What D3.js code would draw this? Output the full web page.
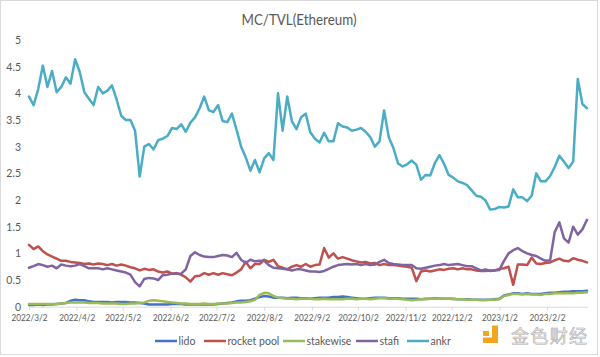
<!DOCTYPE html>
<html><head><meta charset="utf-8">
<script src="https://cdn.jsdelivr.net/npm/d3@7"></script>
<style>body{margin:0;background:#fff}svg{display:block}</style>
</head><body>
<svg id="chart" width="600" height="357"></svg>
<script>
// ---- data (sampled every 3 days from 2022/3/2) ----
const startDate = "2022-03-02";
const stepDays = 3;
const seriesNames = ["lido", "rocket pool", "stakewise", "stafi", "ankr"];
const xTickLabels = ["2022/3/2","2022/4/2","2022/5/2","2022/6/2","2022/7/2","2022/8/2","2022/9/2","2022/10/2","2022/11/2","2022/12/2","2023/1/2","2023/2/2"];
const yTicks = [0,0.5,1,1.5,2,2.5,3,3.5,4,4.5,5];

const lido = [0.03,0.03,0.04,0.03,0.04,0.04,0.05,0.06,0.07,0.11,0.13,0.12,0.12,0.1,0.09,0.09,0.09,0.09,0.08,0.09,
0.09,0.09,0.08,0.08,0.07,0.06,0.04,0.04,0.04,0.04,0.04,0.05,0.05,0.05,0.04,0.04,0.04,0.04,0.04,0.04,
0.04,0.05,0.06,0.07,0.08,0.1,0.11,0.11,0.12,0.15,0.18,0.2,0.19,0.17,0.17,0.17,0.16,0.17,0.17,0.16,
0.16,0.15,0.16,0.17,0.17,0.17,0.18,0.18,0.19,0.18,0.17,0.16,0.15,0.15,0.16,0.17,0.17,0.17,0.16,0.16,
0.16,0.15,0.15,0.15,0.15,0.14,0.15,0.15,0.16,0.16,0.15,0.15,0.15,0.14,0.14,0.14,0.13,0.13,0.13,0.13,
0.13,0.14,0.15,0.21,0.23,0.25,0.25,0.24,0.25,0.24,0.24,0.24,0.25,0.26,0.26,0.27,0.28,0.28,0.29,0.29,
0.29,0.3];

const rocketPool = [1.16,1.08,1.13,1.04,0.98,0.94,0.9,0.86,0.86,0.84,0.83,0.82,0.8,0.81,0.79,0.81,0.8,0.78,0.8,0.77,
0.79,0.77,0.74,0.72,0.68,0.71,0.69,0.7,0.66,0.64,0.66,0.62,0.63,0.6,0.55,0.47,0.57,0.58,0.63,0.6,
0.63,0.6,0.63,0.61,0.59,0.64,0.7,0.84,0.72,0.8,0.8,0.88,0.84,0.88,0.76,0.73,0.7,0.75,0.78,0.75,
0.8,0.75,0.78,0.79,1.1,0.92,1.0,0.9,0.93,0.9,0.87,0.85,0.83,0.84,0.81,0.82,0.78,0.8,0.78,0.78,
0.77,0.76,0.75,0.73,0.48,0.66,0.68,0.66,0.68,0.7,0.69,0.71,0.72,0.7,0.72,0.7,0.7,0.68,0.67,0.67,
0.68,0.68,0.71,0.72,0.75,0.41,0.79,0.79,0.78,0.92,0.81,0.8,0.82,0.83,0.87,0.9,0.86,0.85,0.91,0.88,
0.86,0.83];

const stakewise = [0.05,0.05,0.05,0.05,0.05,0.05,0.05,0.06,0.07,0.08,0.08,0.08,0.08,0.07,0.07,0.07,0.06,0.06,0.06,0.06,
0.05,0.05,0.06,0.06,0.07,0.08,0.11,0.12,0.11,0.1,0.09,0.08,0.07,0.06,0.06,0.05,0.05,0.05,0.06,0.05,
0.05,0.06,0.06,0.06,0.07,0.08,0.08,0.09,0.1,0.13,0.22,0.26,0.25,0.2,0.17,0.16,0.15,0.15,0.14,0.15,
0.15,0.15,0.14,0.14,0.15,0.14,0.14,0.14,0.14,0.15,0.15,0.14,0.15,0.15,0.14,0.15,0.16,0.16,0.15,0.15,
0.15,0.14,0.13,0.12,0.13,0.14,0.14,0.15,0.15,0.16,0.15,0.15,0.14,0.14,0.14,0.13,0.13,0.13,0.12,0.12,
0.13,0.13,0.14,0.2,0.22,0.24,0.24,0.23,0.24,0.23,0.23,0.22,0.24,0.24,0.25,0.25,0.25,0.25,0.25,0.26,
0.26,0.27];

const stafi = [0.73,0.76,0.8,0.78,0.75,0.77,0.72,0.79,0.77,0.76,0.77,0.8,0.76,0.72,0.72,0.72,0.7,0.72,0.7,0.68,
0.66,0.64,0.6,0.46,0.38,0.52,0.54,0.53,0.5,0.59,0.6,0.62,0.62,0.62,0.7,0.95,1.02,0.97,0.94,0.93,
0.93,0.95,0.97,0.96,0.93,1.01,0.88,0.82,0.88,0.85,0.86,0.86,0.78,0.73,0.72,0.71,0.7,0.68,0.7,0.7,
0.68,0.66,0.66,0.65,0.67,0.71,0.75,0.78,0.79,0.8,0.79,0.8,0.78,0.8,0.78,0.79,0.84,0.88,0.82,0.8,
0.79,0.78,0.78,0.78,0.72,0.71,0.73,0.75,0.77,0.78,0.8,0.78,0.79,0.8,0.78,0.76,0.76,0.72,0.68,0.7,
0.67,0.68,0.69,0.86,1.0,1.06,1.1,1.04,1.0,0.97,0.95,0.9,0.86,0.87,1.4,1.58,1.28,1.2,1.5,1.35,
1.45,1.63];

const ankr = [3.94,3.78,4.08,4.52,4.12,4.42,4.02,4.12,4.3,4.18,4.64,4.4,4.02,3.9,3.78,4.12,4.0,4.05,4.15,3.88,
3.58,3.5,3.5,3.3,2.44,3.0,3.05,2.95,3.12,3.15,3.2,3.35,3.33,3.42,3.28,3.45,3.55,3.72,3.94,3.68,
3.65,3.78,3.48,3.46,3.62,3.32,3.0,2.8,2.55,2.75,2.52,2.78,2.88,2.75,4.0,3.3,3.94,3.48,3.33,3.55,
3.62,3.27,3.15,3.08,3.26,3.1,3.1,3.44,3.38,3.36,3.3,3.32,3.35,3.28,3.18,3.0,3.1,3.68,3.18,2.98,
2.69,2.63,2.67,2.74,2.66,2.38,2.47,2.46,2.69,2.84,2.68,2.47,2.42,2.35,2.32,2.28,2.18,2.08,2.06,1.99,
1.82,1.83,1.87,1.86,1.88,2.2,2.05,2.05,1.98,2.08,2.5,2.35,2.35,2.45,2.62,2.83,2.72,2.6,2.72,4.27,
3.8,3.72];

const seriesValues = [lido, rocketPool, stakewise, stafi, ankr];
const seriesColors = ["#4472C4", "#C0504D", "#9BBB59", "#8064A2", "#4BACC6"];

// ---- chart ----
const svg = d3.select("#chart");
const font = "Lato, 'Open Sans', sans-serif";
const textColor = "#595959";

const parse = d3.timeParse("%Y-%m-%d");
const t0 = parse(startDate);
const dates = ankr.map((_, i) => d3.timeDay.offset(t0, i * stepDays));
const tickDates = xTickLabels.map(s => d3.timeParse("%Y/%m/%d")(s));

const x = d3.scaleTime().domain([t0, d3.timeDay.offset(t0, 363)]).range([29, 587]);
const y = d3.scaleLinear().domain([0, 5]).range([306.7, 40]);

// border
svg.append("rect").attr("x", 0.5).attr("y", 0.5).attr("width", 597).attr("height", 354)
  .attr("fill", "#fff").attr("stroke", "#d9d9d9");

// title
svg.append("text").attr("x", 299).attr("y", 24.5).attr("text-anchor", "middle")
  .attr("font-family", font).attr("font-size", 15).attr("fill", textColor)
  .attr("textLength", 115).attr("lengthAdjust", "spacingAndGlyphs")
  .text("MC/TVL(Ethereum)");

// y axis (labels only)
const yAxis = d3.axisLeft(y).tickValues(yTicks).tickSize(0).tickPadding(0)
  .tickFormat(d => d3.format("~g")(d));
const gy = svg.append("g").attr("transform", "translate(21,0)").call(yAxis);
gy.select(".domain").remove();
gy.selectAll("text").attr("font-family", font).attr("font-size", 10.5).attr("fill", textColor);

// x axis
const xAxis = d3.axisBottom(x).tickValues(tickDates).tickSize(4).tickSizeOuter(0).tickPadding(4)
  .tickFormat((d, i) => xTickLabels[i]);
const gx = svg.append("g").attr("transform", "translate(0,306.7)").call(xAxis);
gx.select(".domain").attr("stroke", "#d9d9d9").attr("d", `M${x.range()[0]},0.5H${x.range()[1] + 1}`);
gx.selectAll(".tick line").attr("stroke", "#d9d9d9");
gx.selectAll("text").attr("font-family", font).attr("font-size", 9.5).attr("fill", textColor)
  .attr("lengthAdjust", "spacingAndGlyphs")
  .attr("textLength", (d, i) => xTickLabels[i].length * 4.5);

// lines
const line = d3.line().x((d, i) => x(dates[i])).y(d => y(d));
seriesValues.forEach((vals, k) => {
  svg.append("path").datum(vals).attr("d", line)
    .attr("fill", "none").attr("stroke", seriesColors[k]).attr("stroke-width", 2.5)
    .attr("stroke-linejoin", "round").attr("stroke-linecap", "round");
});

// legend
const legendX = [155, 204, 283, 356, 407];
const lg = svg.append("g").attr("transform", "translate(0,341)");
seriesNames.forEach((n, k) => {
  lg.append("line").attr("x1", legendX[k]).attr("x2", legendX[k] + 22).attr("y1", 0).attr("y2", 0)
    .attr("stroke", seriesColors[k]).attr("stroke-width", 2.5);
  lg.append("text").attr("x", legendX[k] + 23.5).attr("y", 3.6)
    .attr("font-family", font).attr("font-size", 10.5).attr("fill", textColor).text(n);
});

// watermark
const wm = svg.append("g");
wm.append("rect").attr("x", 483).attr("y", 331).attr("width", 6).attr("height", 5).attr("fill", "#F2A51F");
wm.append("path").attr("d", "M492,325.5H498V343H483V337.5H492Z").attr("fill", "#F2A51F");
wm.append("text").attr("x", 511).attr("y", 343).attr("font-family", "'Noto Sans CJK SC', sans-serif")
  .attr("font-size", 18).attr("fill", "#ececec").attr("stroke", "#b0b0b0").attr("stroke-width", 0.6)
  .attr("textLength", 76).text("金色财经");
</script>
</body></html>
